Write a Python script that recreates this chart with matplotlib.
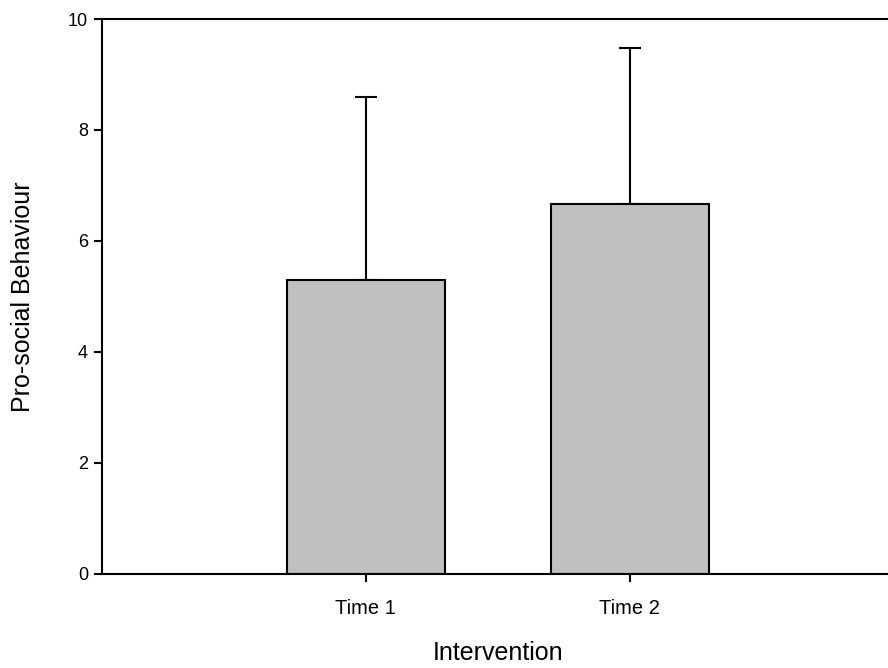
import matplotlib
matplotlib.use("Agg")
import matplotlib.pyplot as plt

categories = ["Time 1", "Time 2"]
means = [5.30, 6.66]
errors_upper = [3.29, 2.81]

plt.rcParams['font.family'] = ['Liberation Sans', 'DejaVu Sans']

fig = plt.figure(figsize=(8.88, 6.68), dpi=100)
ax = fig.add_axes([102/888, 94.3/668, (893.5-102)/888, (573.7-19)/668])

pos = [1, 2]
ax.bar(pos, means, width=0.6, color="#c0c0c0", edgecolor="black", linewidth=1.5, zorder=2)
ax.errorbar(pos, means, yerr=[[0, 0], errors_upper], fmt="none", ecolor="black",
            elinewidth=1.5, capsize=8, capthick=1.5, zorder=1)

ax.set_xlim(0, 3)
ax.set_ylim(0, 10)
ax.set_xticks(pos)
ax.set_xticklabels(categories)
ax.set_yticks([0, 2, 4, 6, 8, 10])
ax.spines['right'].set_visible(False)
for s in ['left', 'bottom', 'top']:
    ax.spines[s].set_linewidth(1.5)
ax.tick_params(axis='both', direction='out', length=6, width=1.5)
ax.tick_params(axis='x', pad=12, labelsize=14.5)
ax.tick_params(axis='y', pad=4, labelsize=13)
ax.tick_params(top=False, right=False)

ax.set_xlabel("Intervention", fontsize=18, labelpad=17)
ax.set_ylabel("Pro-social Behaviour", fontsize=18, labelpad=24)

fig.savefig("out.png", dpi=100)
